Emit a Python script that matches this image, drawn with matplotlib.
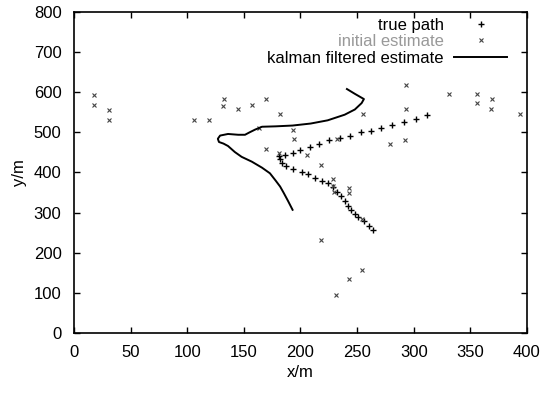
import matplotlib
matplotlib.use("Agg")
import matplotlib.pyplot as plt

plt.rcParams['font.family'] = ['Liberation Sans', 'DejaVu Sans']
plt.rcParams['font.size'] = 12

# true path (+ markers)
true_x = [311.5, 302, 291, 281, 271, 262, 253, 244, 235, 225.5, 216, 208, 199.5, 193, 186, 181,
          182, 183.5, 187, 193, 201, 207, 213, 219, 224, 228.5, 232.5, 236, 239, 242, 245, 248,
          251, 256, 260.5, 264]
true_y = [543.5, 534, 525, 519, 511, 504, 500, 492, 487, 481, 471, 463, 456, 448, 444, 442,
          433, 424, 416, 408, 401, 395, 387, 379, 373, 365, 352, 342, 329, 317, 306, 296,
          288, 280, 266, 256]

# initial estimate (x markers)
init_x = [17.5, 18, 31, 31, 106, 119.5, 132.5, 132, 145, 157, 169.5, 182, 193, 194, 169.5,
          181, 206, 218, 229, 229, 230, 243, 243, 218.5, 254, 243, 231, 254, 255, 293, 293,
          292, 279, 331, 356, 356, 369, 368, 394, 232, 163]
init_y = [592, 568, 555, 532, 532, 532, 582, 566, 557, 568, 582, 545, 507, 484, 459,
          448, 444, 419, 385, 366, 351, 362, 349, 232, 158, 135, 95, 285, 546, 618, 558,
          482, 470, 596, 595, 572, 583, 558, 545, 484, 512]

# kalman filtered estimate (line)
kf_x = [241, 248, 256, 254, 248, 239, 224, 209, 193, 178, 166, 160, 155, 151, 145, 136, 129,
        127, 128, 132, 136, 142, 148, 157, 166, 173, 178, 182, 185, 189, 193]
kf_y = [608, 596, 583, 573, 557, 544, 530, 522, 517, 515, 514, 507, 500, 494, 494, 496, 492,
        484, 476, 472, 466, 451, 439, 427, 412, 398, 380, 365, 350, 329, 307]

fig = plt.figure(figsize=(5.41, 3.93), dpi=100)
ax = fig.add_axes([0.1368, 0.1527, 0.8373, 0.8168])

ax.plot(true_x, true_y, linestyle='none', marker='+', markersize=4, mew=1.0,
        color='black', label='true path')
ax.plot(init_x, init_y, linestyle='none', marker='x', markersize=3.5, mew=0.8,
        color='#444444', label='initial estimate')
ax.plot(kf_x, kf_y, color='black', linewidth=1.4, label='kalman filtered estimate')

ax.set_xlim(0, 400)
ax.set_ylim(0, 800)
ax.set_xticks(range(0, 401, 50))
ax.set_yticks(range(0, 801, 100))
ax.tick_params(direction='in', length=4, width=1, top=True, right=True)
ax.tick_params(axis='x', pad=9)
ax.tick_params(axis='y', pad=9)
for s in ax.spines.values():
    s.set_linewidth(1.2)

ax.set_xlabel('x/m', labelpad=3)
ax.set_ylabel('y/m', labelpad=5)

leg = ax.legend(loc='upper right', bbox_to_anchor=(0.960, 0.9875), frameon=False,
                markerfirst=False, handlelength=3.2, labelspacing=0.1, borderaxespad=0,
                handletextpad=0.6, borderpad=0.1)
for t in leg.get_texts():
    t.set_ha('right')
leg.get_texts()[1].set_color('#999999')

fig.savefig('out.png', dpi=100)
